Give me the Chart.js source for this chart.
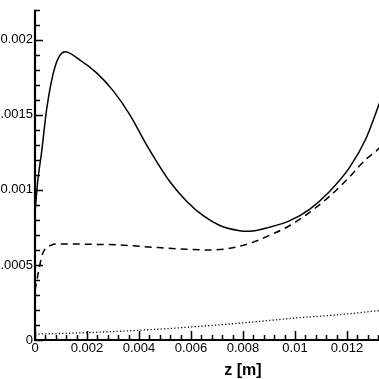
<!DOCTYPE html>
<html lang="en">
<head>
<meta charset="UTF-8"/>
<title>z profile</title>
<script src="https://cdn.jsdelivr.net/npm/chart.js@4/dist/chart.umd.min.js"></script>
<style>
  *{box-sizing:border-box;margin:0;padding:0}
  html,body{width:379px;height:379px;overflow:hidden;background:#fff}
  .frame{position:relative;width:379px;height:379px;overflow:hidden}
  .frame canvas{position:absolute;left:-25px;top:0}
</style>
</head>
<body>
<div class="frame"><canvas id="c" width="476" height="379"></canvas></div>
<script>
// ── data ───────────────────────────────────────────────────────────────────
const solidZ = [0, 0.0001, 0.00026, 0.00045, 0.00077, 0.00115, 0.00173, 0.00237, 0.00301, 0.00365,
                0.00429, 0.00519, 0.00583, 0.00647, 0.00711, 0.00781, 0.00826, 0.00903,
                0.0098, 0.01056, 0.01133, 0.0121, 0.01274, 0.01319, 0.0136];
const solidV = [0.00085, 0.00105, 0.00126, 0.00154, 0.00182, 0.00192, 0.001865, 0.00178, 0.00166, 0.00150,
                0.00130, 0.001054, 0.000925, 0.000828, 0.000763, 0.00073, 0.000724, 0.000752,
                0.000795, 0.000871, 0.00099, 0.00115, 0.001346, 0.00155, 0.00175];

const dashZ = [0, 0.00013, 0.00019, 0.00026, 0.00038, 0.00064, 0.00096, 0.002, 0.00327, 0.00455,
               0.00583, 0.00672, 0.00749, 0.00826, 0.00903, 0.0098, 0.01056, 0.01133, 0.0121,
               0.01274, 0.01313, 0.0136];
const dashV = [0.00033, 0.00045, 0.000503, 0.000558, 0.000605, 0.000633, 0.00064, 0.000638, 0.000633, 0.000618,
               0.000605, 0.0006, 0.000611, 0.000644, 0.000698, 0.000763, 0.00085, 0.000957, 0.001087,
               0.001206, 0.00126, 0.00135];

const dotZ = [0, 0.002, 0.00403, 0.00595, 0.008, 0.01005, 0.01197, 0.01319, 0.0136];
const dotV = [0.000039, 0.000049, 0.000065, 0.000086, 0.000114, 0.000147, 0.000173, 0.000195, 0.0002];

const xTicks = [0, 0.002, 0.004, 0.006, 0.008, 0.01, 0.012];
const xTickLabels = ["0", "0.002", "0.004", "0.006", "0.008", "0.01", "0.012"];
const yTicks = [0, 0.0005, 0.001, 0.0015, 0.002];
const yTickLabels = ["0", "0.0005", "0.001", "0.0015", "0.002"];

const X_MIN = 0, X_MAX = 0.016, X_MINOR = 0.0004;
const Y_MIN = 0, Y_MAX = 0.0022, Y_MINOR = 0.0001;

const pts = (zs, vs) => zs.map((z, i) => ({ x: z, y: vs[i] }));

// ── inward ticks + axis lines ───────────────────────────────────────────────
const axesPlugin = {
  id: 'axes',
  afterDatasetsDraw(chart) {
    const { ctx, chartArea: a, scales: { x, y } } = chart;
    ctx.save();
    ctx.strokeStyle = '#000';
    ctx.lineWidth = 1.5;
    ctx.beginPath();
    for (let v = X_MIN; v <= X_MAX + 1e-9; v += X_MINOR) {
      const px = Math.round(x.getPixelForValue(v)) + 0.5;
      const major = Math.abs(v / 0.002 - Math.round(v / 0.002)) < 1e-4;
      ctx.moveTo(px, a.bottom);
      ctx.lineTo(px, a.bottom - (major ? 9 : 5));
    }
    for (let v = Y_MIN; v <= Y_MAX + 1e-9; v += Y_MINOR) {
      const py = Math.round(y.getPixelForValue(v)) + 0.5;
      const major = yTicks.some(t => Math.abs(t - v) < 1e-7);
      ctx.moveTo(a.left, py);
      ctx.lineTo(a.left + (major ? 8 : 5), py);
    }
    ctx.stroke();
    ctx.lineWidth = 2.2;
    ctx.beginPath();
    ctx.moveTo(a.left, a.top);
    ctx.lineTo(a.left, a.bottom);
    ctx.lineTo(a.right, a.bottom);
    ctx.stroke();
    ctx.restore();
  }
};

const font = { family: "'Liberation Sans', Arial, Helvetica, sans-serif", size: 13 };

new Chart(document.getElementById('c'), {
  type: 'line',
  data: {
    datasets: [
      { label: 'solid', data: pts(solidZ, solidV), borderColor: '#000', borderWidth: 1.5 },
      { label: 'dashed', data: pts(dashZ, dashV), borderColor: '#000', borderWidth: 1.5, borderDash: [7, 5] },
      { label: 'dotted', data: pts(dotZ, dotV), borderColor: '#000', borderWidth: 1.3, borderDash: [1.2, 2.2] },
    ]
  },
  options: {
    responsive: false,
    animation: false,
    layout: { padding: 0 },
    elements: { point: { radius: 0 }, line: { cubicInterpolationMode: 'monotone', fill: false } },
    plugins: { legend: { display: false }, tooltip: { enabled: false } },
    scales: {
      x: {
        type: 'linear', min: X_MIN, max: X_MAX,
        grid: { display: false, drawTicks: false }, border: { display: false },
        afterBuildTicks: s => { s.ticks = xTicks.map(v => ({ value: v })); },
        afterFit: s => { s.height = 39; },
        ticks: { color: '#000', font, padding: 1, maxRotation: 0, autoSkip: false,
                 callback: (v, i) => xTickLabels[i] },
        title: { display: true, text: 'z [m]', color: '#000', padding: 0,
                 font: { family: font.family, size: 16, weight: 'bold', lineHeight: 1 } }
      },
      y: {
        type: 'linear', min: Y_MIN, max: Y_MAX,
        grid: { display: false, drawTicks: false }, border: { display: false },
        afterBuildTicks: s => { s.ticks = yTicks.map(v => ({ value: v })); },
        afterFit: s => { s.width = 60; },
        ticks: { color: '#000', font, padding: 2, autoSkip: false,
                 callback: (v, i) => yTickLabels[i] }
      }
    }
  },
  plugins: [axesPlugin]
});
</script>
</body>
</html>
